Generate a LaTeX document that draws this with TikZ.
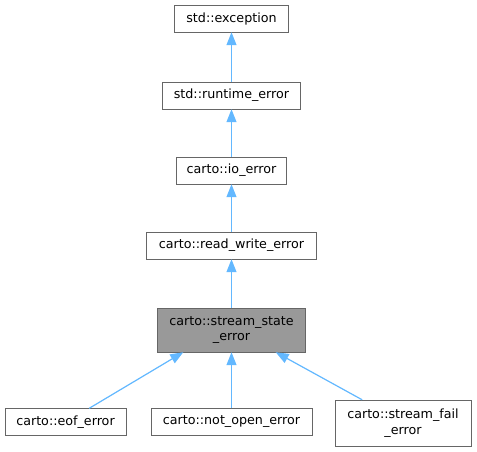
\documentclass[tikz,border=0pt]{standalone}
\usepackage{fontspec}
\setmainfont{DejaVu Sans}
\usetikzlibrary{arrows.meta,positioning}
\definecolor{edgeblue}{HTML}{63B8FF}
\definecolor{boxgray}{HTML}{666666}
\definecolor{selgray}{HTML}{999999}

\begin{document}
\begin{tikzpicture}[
  x=1pt, y=1pt,
  cls/.style={draw=boxgray, rectangle, minimum height=27pt, inner sep=2pt,
              align=center, font=\fontsize{12.7}{15.5}\selectfont, fill=white},
  sel/.style={cls, fill=selgray, minimum height=44pt},
  inh/.style={{Triangle[width=10pt,length=13pt]}-, draw=edgeblue, fill=edgeblue, line width=1.2pt},
]
\useasboundingbox (0,0) rectangle (477,-451);

% Class boxes
\node[cls, minimum width=114pt] (EXC) at (231.5,-18.5)  {std::exception};
\node[cls, minimum width=138pt] (RTE) at (231.5,-95.5)  {std::runtime\_error};
\node[cls, minimum width=110pt] (IOE) at (231.5,-170.5) {carto::io\_error};
\node[cls, minimum width=170pt] (RWE) at (231.5,-245.5) {carto::read\_write\_error};
\node[sel, minimum width=148pt] (SSE) at (231.5,-330)   {carto::stream\_state\\\_error};
\node[cls, minimum width=121pt] (EOF) at (65.5,-422)    {carto::eof\_error};
\node[cls, minimum width=161pt] (NOE) at (231.5,-422)   {carto::not\_open\_error};
\node[cls, minimum width=136pt, minimum height=46pt] (SFE) at (403,-423) {carto::stream\_fail\\\_error};

% Inheritance edges
\draw[inh] (EXC) -- (RTE);
\draw[inh] (RTE) -- (IOE);
\draw[inh] (IOE) -- (RWE);
\draw[inh] (RWE) -- (SSE);
\draw[inh] ([xshift=26pt]SSE.south west) -- ([xshift=-37pt]EOF.north east);
\draw[inh] (SSE.south) -- (NOE.north);
\draw[inh] ([xshift=-30pt]SSE.south east) -- ([xshift=-109pt]SFE.north east);
\end{tikzpicture}
\end{document}
